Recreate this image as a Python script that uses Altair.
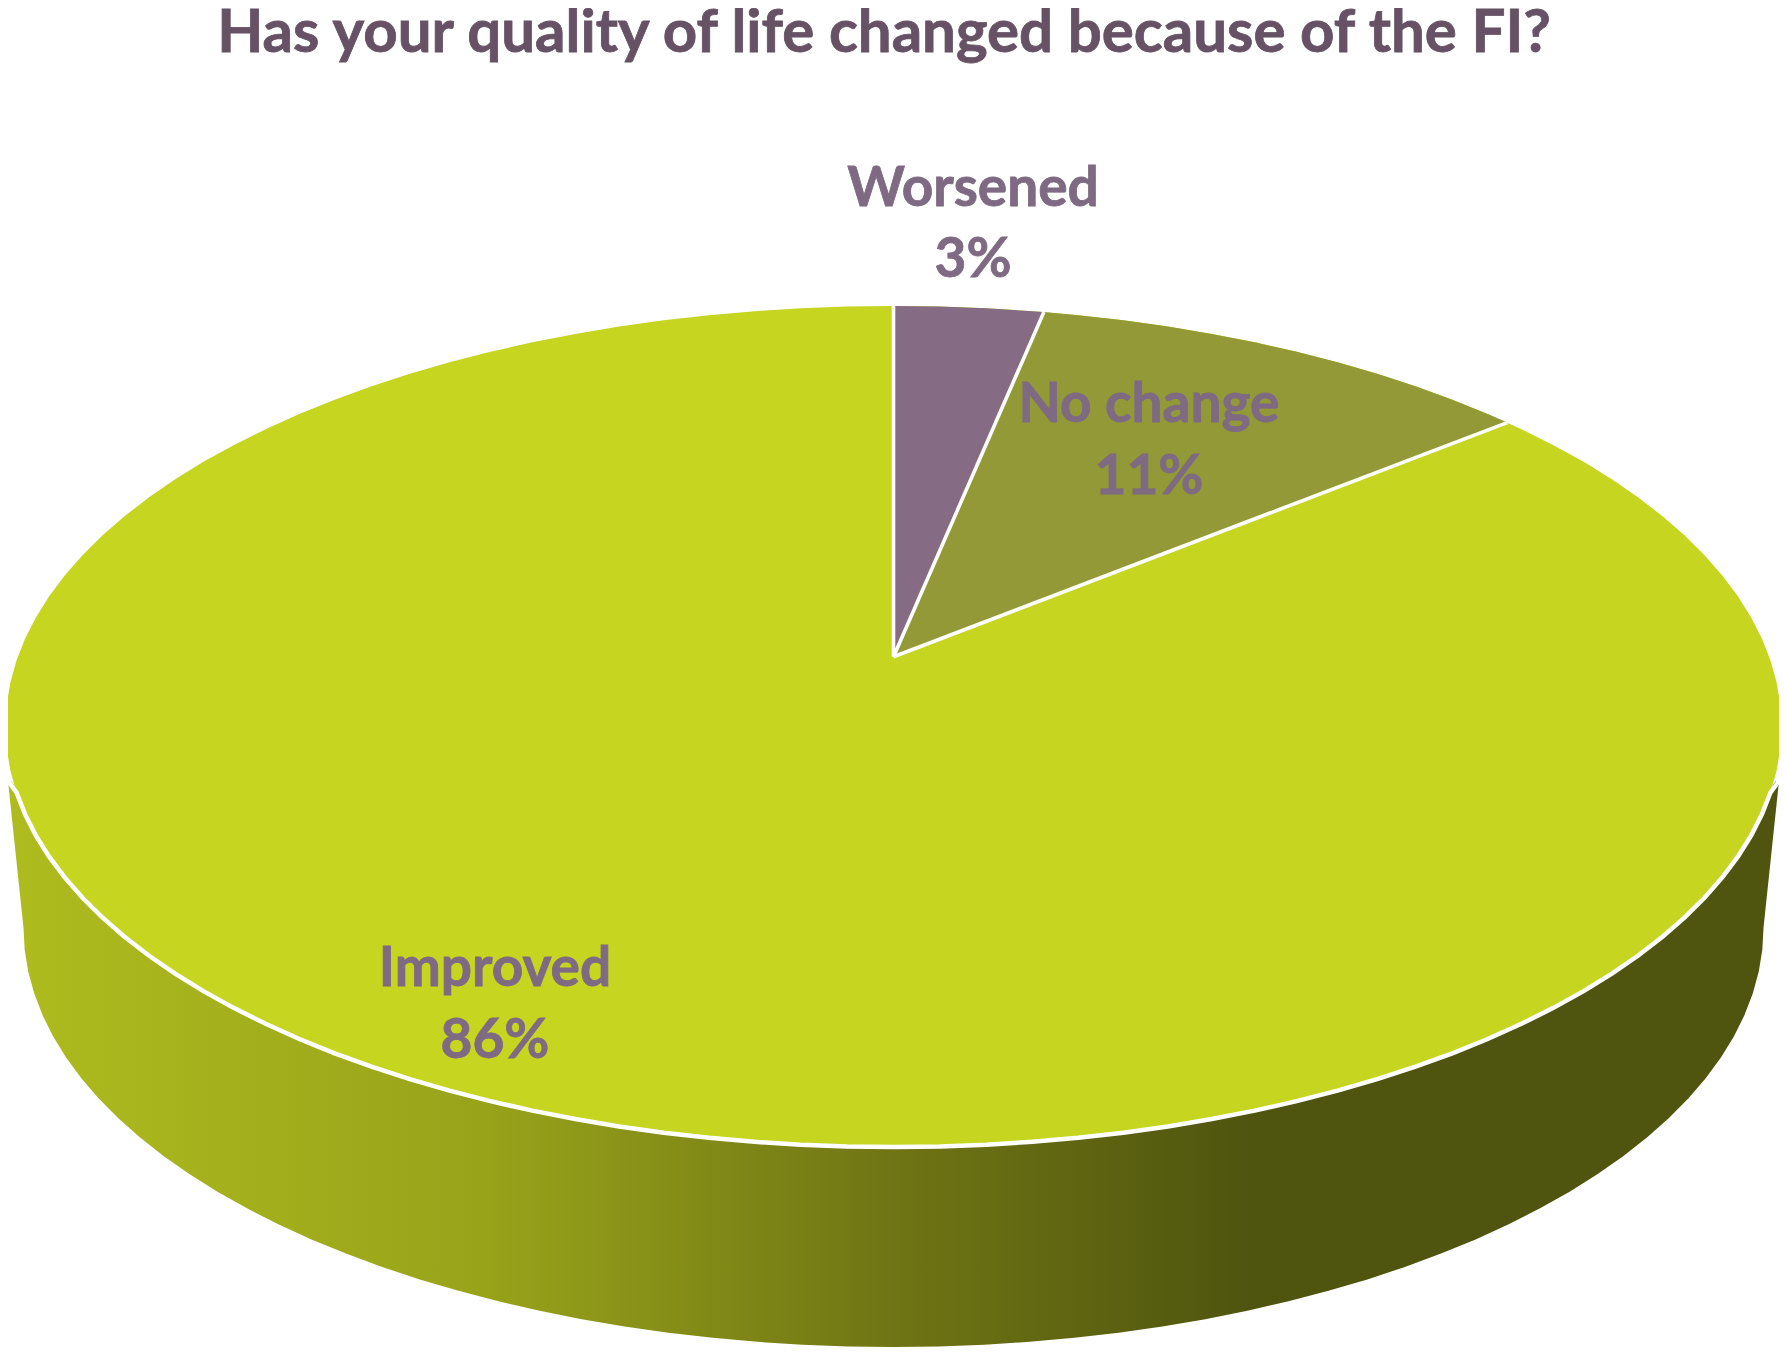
import altair as alt
import numpy as np
import pandas as pd

# ---- chart values ----
CATEGORIES = ["Worsened", "No change", "Improved"]
SHARES = [3.2, 10.9, 85.9]
COLORS = ["#866B85", "#929936", "#C5D520"]
TITLE = "Has your quality of life changed because of the FI?"
LABEL_COLOR = "#7F6A83"
TITLE_COLOR = "#665264"

# text anchor points (pixels of the reference)
LABEL_X = [973, 1149, 495]
LABEL_Y_NAME = [206, 422, 986]
LABEL_Y_PCT = [277, 494, 1058]
TITLE_X, TITLE_Y = 884, 52

# ---- the tilted disc, a projective view of a circle ----
CX, APEX_Y = 893.5, 656.7
A, B, E = 875.6, 409.0, 0.166          # perspective of the top face
TOP_CY, TOP_RX, TOP_RY = 726.5, 888.0, 420.5
BOT_CY, BOT_RX, BOT_RY = 928.0, 870.0, 419.0
SIDE_START_Y = 781.0
SIDE_OVERHANG = 15.5


def on_rim(share_pct):
    t = np.radians(share_pct * 3.6)
    d = 1 + E * np.cos(t)
    return CX + A * np.sin(t) / d, APEX_Y - B * np.cos(t) / d


def half(x, cy, rx, ry, sign):
    return cy + sign * ry * np.sqrt(np.clip(1 - ((x - CX) / rx) ** 2, 0, 1))


sweep = np.radians(np.arange(0, 180.01, 3.0))
xs = np.sort(CX - TOP_RX * np.cos(sweep))
face = pd.DataFrame({
    "x": xs,
    "y": half(xs, TOP_CY, TOP_RX, TOP_RY, -1),
    "y2": half(xs, TOP_CY, TOP_RX, TOP_RY, 1),
    "cat": "Improved",
})

# wedges, drawn from the shares
cum = np.cumsum([0] + SHARES[:2])
wedges = []
spokes = [pd.DataFrame({"x": [CX, CX], "y": [APEX_Y, TOP_CY - TOP_RY], "s": "s0", "o": [0, 1]})]
for i in range(2):
    x1, y1 = on_rim(cum[i])
    x2, y2 = on_rim(cum[i] + SHARES[i])
    gx = xs[(xs > max(x1, CX)) & (xs < x2)]
    wx = np.concatenate([[CX], [x1] if x1 > CX else [], gx, [x2]])
    top = half(wx, TOP_CY, TOP_RX, TOP_RY, -1)
    if x1 > CX:
        m = wx <= x1
        top[m] = APEX_Y + (y1 - APEX_Y) * (wx[m] - CX) / (x1 - CX)
    low = APEX_Y + (y2 - APEX_Y) * (wx - CX) / (x2 - CX)
    top[-1] = y2
    wedges.append(pd.DataFrame({"x": wx, "y": top, "y2": low, "cat": CATEGORIES[i]}))
    spokes.append(pd.DataFrame({"x": [CX, x2], "y": [APEX_Y, y2], "s": f"s{i+1}", "o": [0, 1]}))
wedge_df = pd.concat(wedges, ignore_index=True)
spoke_df = pd.concat(spokes, ignore_index=True)

# side wall: bottom ellipse plus the two slanted silhouette edges
L, R = CX - BOT_RX, CX + BOT_RX
x_left, x_right = L - SIDE_OVERHANG, R + SIDE_OVERHANG
sx = np.unique(np.concatenate([[x_left, x_right], np.linspace(x_left, L, 6), np.linspace(R, x_right, 6),
                               CX - BOT_RX * np.cos(sweep)]))
side_top = np.maximum(half(sx, TOP_CY, TOP_RX, TOP_RY, 1), SIDE_START_Y)
side_bot = half(sx, BOT_CY, BOT_RX, BOT_RY, 1)
lm, rm = sx < L, sx > R
side_bot[lm] = SIDE_START_Y + (BOT_CY - SIDE_START_Y) * (sx[lm] - x_left) / SIDE_OVERHANG
side_bot[rm] = SIDE_START_Y + (BOT_CY - SIDE_START_Y) * (x_right - sx[rm]) / SIDE_OVERHANG
side = pd.DataFrame({"x": sx, "y": side_top, "y2": side_bot})

rim_x = xs[half(xs, TOP_CY, TOP_RX, TOP_RY, 1) >= SIDE_START_Y]
rim_x = np.concatenate([[x_left], rim_x, [x_right]])
rim = pd.DataFrame({"x": rim_x, "y": np.maximum(half(rim_x, TOP_CY, TOP_RX, TOP_RY, 1), SIDE_START_Y)})

labels = pd.DataFrame({
    "x": LABEL_X * 2,
    "y": LABEL_Y_NAME + LABEL_Y_PCT,
    "text": CATEGORIES + [f"{round(v)}%" for v in SHARES],
})
title_df = pd.DataFrame({"x": [TITLE_X], "y": [TITLE_Y], "text": [TITLE]})

W, H = 1771, 1339
xenc = alt.X("x:Q", axis=None, scale=alt.Scale(domain=[8, 8 + W], nice=False, zero=False))
yenc = alt.Y("y:Q", axis=None, scale=alt.Scale(domain=[8 + H, 8], nice=False, zero=False))
color = alt.Color("cat:N", legend=None, scale=alt.Scale(domain=CATEGORIES, range=COLORS))

side_fill = alt.Gradient(
    gradient="linear", x1=0, x2=1, y1=0, y2=0,
    stops=[
        alt.GradientStop(offset=0.0, color="#AEBC1E"),
        alt.GradientStop(offset=0.27, color="#98A31A"),
        alt.GradientStop(offset=0.50, color="#6F7514"),
        alt.GradientStop(offset=0.62, color="#5C6210"),
        alt.GradientStop(offset=0.70, color="#4F550E"),
        alt.GradientStop(offset=1.0, color="#4F550E"),
    ],
)

side_layer = alt.Chart(side).mark_area(color=side_fill, interpolate="linear").encode(xenc, yenc, y2="y2:Q")
face_layer = alt.Chart(face).mark_area().encode(xenc, yenc, y2="y2:Q", color=color)
wedge_layer = alt.Chart(wedge_df).mark_area().encode(xenc, yenc, y2="y2:Q", color=color, detail="cat:N")
rim_layer = alt.Chart(rim).mark_line(color="white", strokeWidth=4.5).encode(xenc, yenc)
spoke_layer = alt.Chart(spoke_df).mark_line(color="white", strokeWidth=3.6).encode(
    xenc, yenc, detail="s:N", order="o:Q"
)
text_layer = alt.Chart(labels).mark_text(
    font="Lato", fontWeight="bold", fontSize=55, color=LABEL_COLOR, align="center", baseline="alphabetic",
    stroke=LABEL_COLOR, strokeWidth=0.8,
).encode(xenc, yenc, text="text:N")
title_layer = alt.Chart(title_df).mark_text(
    font="Lato", fontWeight="bold", fontSize=60, color=TITLE_COLOR, align="center", baseline="alphabetic",
    stroke=TITLE_COLOR, strokeWidth=0.8,
).encode(xenc, yenc, text="text:N")

chart = (
    alt.layer(side_layer, face_layer, wedge_layer, rim_layer, spoke_layer, text_layer, title_layer)
    .properties(
        width=W, height=H, padding=0,
        autosize=alt.AutoSizeParams(type="none"),
        view=alt.ViewBackground(stroke="transparent", strokeWidth=0),
    )
    .configure_view(stroke="transparent", strokeWidth=0)
    .configure(background="white")
)

chart.save("out.html", embed_options={"renderer": "svg", "actions": False})
